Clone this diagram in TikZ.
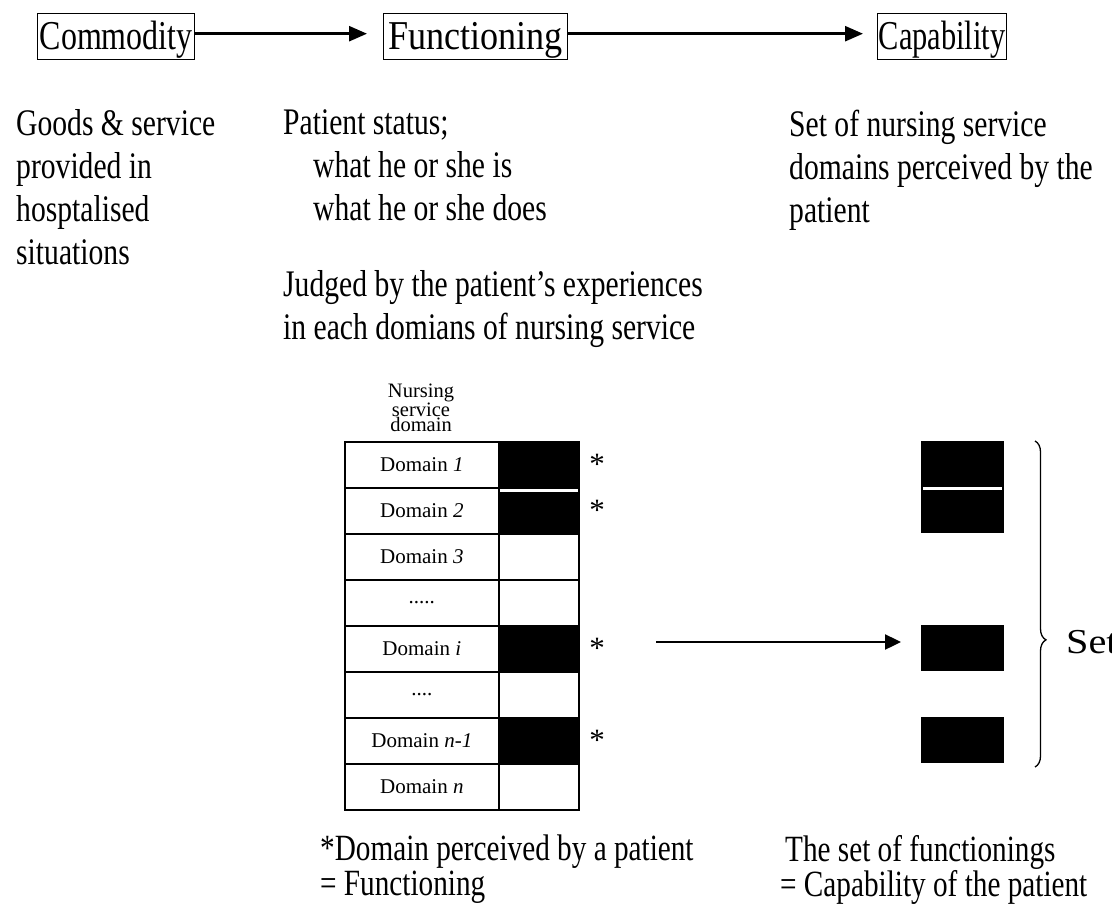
\documentclass[tikz,border=0pt]{standalone}
\usepackage{fontspec}
\setmainfont{Liberation Serif}
% tall, narrow cuts of the serif face for the running text
\newfontfamily\hdrfont[FakeStretch=0.78]{Liberation Serif}
\newfontfamily\txtfont[FakeStretch=0.79]{Liberation Serif}
\newfontfamily\widefont[FakeStretch=1.15]{Liberation Serif}
\usetikzlibrary{arrows.meta,decorations.pathreplacing}

\begin{document}
\begin{tikzpicture}[x=1pt,y=-1pt,
  hdr/.style={draw, line width=1.4pt, inner xsep=2pt, inner ysep=3pt,
    text height=33pt, text depth=7pt, anchor=north west,
    font=\hdrfont\fontsize{41}{46}\selectfont},
  body/.style={anchor=north west, align=left, inner sep=0pt,
    font=\txtfont\fontsize{37.5}{43}\selectfont},
  flow/.style={line width=2.6pt, -{Triangle[length=18pt,width=15pt]}},
  cellL/.style={draw, line width=1.7pt, minimum width=154pt, minimum height=46pt,
    inner sep=0pt, anchor=north west, font=\fontsize{21}{24}\selectfont},
  cellR/.style={draw, line width=1.7pt, minimum width=80pt, minimum height=46pt,
    inner sep=0pt, anchor=north west},
  starlbl/.style={inner sep=0pt, font=\fontsize{31}{32}\selectfont},
  blk/.style={fill=black, draw=none, minimum width=83pt, inner sep=0pt, anchor=north west},
]
\useasboundingbox (0,0) rectangle (1112,907);
\clip (0,0) rectangle (1112,907);

% top row: the three concepts
\node[hdr] (com) at (37,13) {Commodity};
\node[hdr, minimum width=184pt] (fun) at (383,13) {\scalebox{1.13}[1]{Functioning}};
\node[hdr, minimum width=129pt, inner xsep=0pt] (cap) at (877,13) {\scalebox{0.95}[1]{Capability}};
\draw[flow, shorten >=16pt] ([yshift=3pt]com.east) -- ([yshift=3pt]fun.west);
\draw[flow, shorten >=14pt] ([yshift=3pt]fun.east) -- ([yshift=3pt]cap.west);

% descriptions under each concept
\node[body] (dcom) at (16,109.5) {Goods \& service\\provided in\\hosptalised\\situations};
\node[body] (dfun) at (283,109.5) {Patient status;\\\hspace*{30pt}what he or she is\\\hspace*{30pt}what he or she does};
\node[body] (djud) at (283,270.5) {Judged by the patient’s experiences\\in each domians of nursing service};
\node[body] (dcap) at (789,109.5) {Set of nursing service\\domains perceived by the\\patient};

% table of nursing service domains
\node[anchor=south, align=center, inner sep=0pt,
  font=\fontsize{20.5}{15.5}\selectfont] (thead) at (421,432) {Nursing\\service\\domain};
\foreach \k/\lbl/\fc in {1/{Domain \textit{1}}/black, 2/{Domain \textit{2}}/black,
    3/{Domain \textit{3}}/white, 4/{.....}/white, 5/{Domain \textit{i}}/black,
    6/{....}/white, 7/{Domain \textit{n-1}}/black, 8/{Domain \textit{n}}/white}{
  \node[cellL] (L\k) at (344,{441+46*(\k-1)}) {\lbl};
  \node[cellR, fill=\fc] (R\k) at (498,{441+46*(\k-1)}) {};
}
\draw[white, line width=2.6pt] ([xshift=2pt,yshift=-1.5pt]R1.south west) -- ([xshift=-2pt,yshift=-1.5pt]R1.south east);

% asterisks marking perceived domains
\foreach \k in {1,2,5,7}{
  \node[starlbl] (s\k) at (597,{441+46*(\k-1)+23}) {*};
}

% the set of functionings
\node[blk, minimum height=92pt] (fA) at (921,441) {};
\draw[white, line width=2.6pt] ([xshift=2pt,yshift=-1.5pt]fA.west) -- ([xshift=-2pt,yshift=-1.5pt]fA.east);
\node[blk, minimum height=46pt] (fB) at (921,625) {};
\node[blk, minimum height=46pt] (fC) at (921,717) {};
\coordinate (arrstart) at (656,642);
\draw[line width=2.4pt, -{Triangle[length=16pt,width=15pt]}, shorten >=20pt]
  (arrstart) -- (arrstart -| fB.west);

\draw[line width=1.3pt, decorate, decoration={brace, amplitude=11pt, aspect=0.61}]
  (1035,441) coordinate (brtop) -- (1035,767) coordinate (brbot);
\node[anchor=west, inner sep=0pt, font=\widefont\fontsize{35}{40}\selectfont] (setlbl) at (1066,642) {Set};

% captions
\node[body, font=\txtfont\fontsize{37}{35}\selectfont] (fnote) at (320,835) {*Domain perceived by a patient\\= Functioning};
\node[body, font=\txtfont\fontsize{37}{35}\selectfont] (cnote) at (780,835) {\hspace*{5pt}The set of functionings\\= Capability of the patient};
\end{tikzpicture}
\end{document}
